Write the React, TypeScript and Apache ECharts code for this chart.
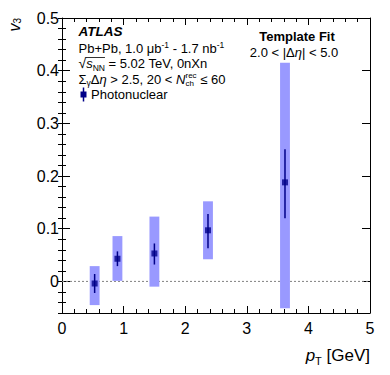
import React, { useEffect, useRef } from "react";
import * as echarts from "echarts";

// ---- data ----
const ptValues = [0.53, 0.9, 1.5, 2.37, 3.62];
const v3Values = [-0.004, 0.043, 0.053, 0.097, 0.188];
const statLow = [-0.022, 0.029, 0.032, 0.063, 0.12];
const statHigh = [0.014, 0.057, 0.072, 0.128, 0.251];
const sysLow = [-0.045, 0.001, -0.01, 0.042, -0.051];
const sysHigh = [0.029, 0.086, 0.123, 0.152, 0.415];
const sysHalfWidth = 0.08;
const xRange = [0, 5];
const yRange = [-0.06, 0.5];
const xMajorStep = 1;
const yMinorStep = 0.02;
const yTickLabels = [0, 0.1, 0.2, 0.3, 0.4, 0.5];

const FONT = "'Liberation Sans', Arial, Helvetica, sans-serif";
const NAVY = "#000088";
const BOX = "#9999ff";

type Frag = { t?: string; s?: number; b?: boolean; i?: boolean; dy?: number; stack?: [string, string]; sdy?: [number, number] };

function makeMeasurer() {
  const ctx = document.createElement("canvas").getContext("2d")!;
  return (t: string, s: number, b?: boolean, i?: boolean) => {
    ctx.font = `${i ? "italic " : ""}${b ? "bold " : ""}${s}px ${FONT}`;
    return ctx.measureText(t).width;
  };
}

function buildLine(
  measure: (t: string, s: number, b?: boolean, i?: boolean) => number,
  frags: Frag[],
  x0: number,
  baseline: number,
  align: "left" | "center" | "right" = "left",
  color = "#000",
  defSize = 13
) {
  const items: { t: string; x: number; s: number; dy: number; b?: boolean; i?: boolean }[] = [];
  let x = 0;
  for (const f of frags) {
    const s = f.s ?? defSize;
    if (f.stack) {
      const sdy = f.sdy ?? [-5, 3];
      const w1 = measure(f.stack[0], s, f.b, f.i);
      const w2 = measure(f.stack[1], s, f.b, f.i);
      items.push({ t: f.stack[0], x, s, dy: sdy[0], b: f.b, i: f.i });
      items.push({ t: f.stack[1], x, s, dy: sdy[1], b: f.b, i: f.i });
      x += Math.max(w1, w2);
    } else {
      const t = f.t ?? "";
      const w = measure(t, s, f.b, f.i);
      items.push({ t, x, s, dy: f.dy ?? 0, b: f.b, i: f.i });
      x += w;
    }
  }
  const start = align === "center" ? x0 - x / 2 : align === "right" ? x0 - x : x0;
  const elements = items.map((it) => ({
    type: "text",
    x: start + it.x,
    y: baseline + it.dy - 0.35 * it.s,
    silent: true,
    style: {
      text: it.t,
      fill: color,
      fontSize: it.s,
      fontFamily: FONT,
      fontWeight: it.b ? "bold" : "normal",
      fontStyle: it.i ? "italic" : "normal",
      align: "left",
      verticalAlign: "middle",
    },
  }));
  return { elements, start, width: x, items };
}

function App() {
  const ref = useRef<HTMLDivElement>(null);
  useEffect(() => {
    if (!ref.current) return;
    const chart = echarts.init(ref.current, undefined, { renderer: "svg" });
    const measure = makeMeasurer();

    const lx = 78.5;
    const atlas = buildLine(measure, [{ t: "ATLAS", s: 13.5, b: true, i: true }], lx, 36.7);
    const lumi = buildLine(
      measure,
      [{ t: "Pb+Pb, 1.0 \u03bcb" }, { t: "-1", s: 8.5, dy: -5.5 }, { t: " - 1.7 nb" }, { t: "-1", s: 8.5, dy: -5.5 }],
      lx,
      53.5
    );
    const sqrtLine = buildLine(
      measure,
      [{ t: "\u221a", s: 14 }, { t: "s", i: true }, { t: "NN", s: 8.5, dy: 2.5 }, { t: " = 5.02 TeV, 0nXn" }],
      lx,
      68.3
    );
    const rootW = measure("\u221a", 14);
    const overW = measure("s", 13, false, true) + measure("NN", 8.5);
    const cutLine = buildLine(
      measure,
      [
        { t: "\u03a3" },
        { t: "\u03b3", s: 8.5, dy: 2.5 },
        { t: "\u0394" },
        { t: "\u03b7", i: true },
        { t: " > 2.5, 20 < " },
        { t: "N", i: true },
        { stack: ["rec", "ch"], s: 8, sdy: [-5.5, 2.7] },
        { t: " \u2264 60" },
      ],
      lx,
      83.8
    );
    const photo = buildLine(measure, [{ t: "Photonuclear" }], lx + 12.5, 99);
    const fit = buildLine(measure, [{ t: "Template Fit", b: true }], 297, 40.7, "center");
    const deta = buildLine(
      measure,
      [{ t: "2.0 < |\u0394" }, { t: "\u03b7", i: true }, { t: "| < 5.0" }],
      294,
      57,
      "center"
    );
    const yTitle = buildLine(measure, [{ t: "v", s: 16, i: true }, { t: "3", s: 10, dy: 0.5 }], 0, 0, "right");
    const xTitle = buildLine(
      measure,
      [{ t: "p", s: 17, i: true }, { t: "T", s: 11, dy: 4 }, { t: " [GeV]", s: 17 }],
      370,
      361,
      "right"
    );

    const mx = lx + 5; // legend marker centre
    const my = 94.5;
    const graphicEls: any[] = [
      ...atlas.elements,
      ...lumi.elements,
      ...sqrtLine.elements,
      {
        type: "line",
        silent: true,
        shape: { x1: lx + rootW - 0.5, y1: 57.5, x2: lx + rootW + overW, y2: 57.5 },
        style: { stroke: "#000", lineWidth: 0.8 },
      },
      ...cutLine.elements,
      {
        type: "line",
        silent: true,
        shape: { x1: mx, y1: my - 7, x2: mx, y2: my + 7 },
        style: { stroke: NAVY, lineWidth: 1.5 },
      },
      {
        type: "rect",
        silent: true,
        shape: { x: mx - 3, y: my - 3, width: 6, height: 6 },
        style: { fill: NAVY },
      },
      ...photo.elements,
      ...fit.elements,
      ...deta.elements,
      {
        type: "group",
        x: 20,
        y: 18,
        rotation: Math.PI / 2,
        children: yTitle.elements,
      },
      ...xTitle.elements,
    ];

    const tickStyle = { color: "#000", width: 1 };
    const xAxisBase = {
      type: "value",
      min: xRange[0],
      max: xRange[1],
      interval: xMajorStep,
      axisLine: { show: true, onZero: false, lineStyle: tickStyle },
      axisTick: { show: true, inside: true, length: 7, lineStyle: tickStyle },
      minorTick: { show: true, splitNumber: 5, length: 4, lineStyle: tickStyle },
      splitLine: { show: false },
      minorSplitLine: { show: false },
    };
    const yMajor = (position: string, labels: boolean) => ({
      type: "value",
      position,
      min: yRange[0],
      max: yRange[1],
      axisLine: { show: true, onZero: false, lineStyle: tickStyle },
      axisTick: { show: true, inside: true, length: 8, lineStyle: tickStyle, customValues: yTickLabels },
      axisLabel: {
        show: labels,
        customValues: yTickLabels,
        formatter: (v: number) => String(+v.toFixed(2)),
        color: "#000",
        fontSize: 16,
        fontFamily: FONT,
        margin: 3,
      },
      splitLine: { show: false },
    });
    const yMinor = (position: string) => ({
      type: "value",
      position,
      min: yRange[0],
      max: yRange[1],
      interval: yMinorStep,
      axisLine: { show: false },
      axisTick: { show: true, inside: true, length: 4, lineStyle: tickStyle },
      axisLabel: { show: false },
      splitLine: { show: false },
    });

    const option: any = {
      animation: false,
      backgroundColor: "#fff",
      grid: { left: 62, right: 20, top: 18, bottom: 62, containLabel: false },
      xAxis: [
        {
          ...xAxisBase,
          position: "bottom",
          axisLabel: { show: true, color: "#000", fontSize: 16, fontFamily: FONT, margin: 7 },
        },
        { ...xAxisBase, position: "top", axisLabel: { show: false } },
      ],
      yAxis: [yMajor("left", true), yMinor("left"), yMajor("right", false), yMinor("right")],
      graphic: { elements: graphicEls },
      series: [
        {
          type: "line",
          data: [
            [xRange[0], 0],
            [xRange[1], 0],
          ],
          symbol: "none",
          silent: true,
          z: 1,
          lineStyle: { color: "#808080", width: 1, type: [2, 2] },
        },
        {
          type: "custom",
          z: 2,
          silent: true,
          data: ptValues.map((x, i) => [x, sysLow[i], sysHigh[i]]),
          encode: { x: 0, y: [1, 2] },
          renderItem: (_p: any, api: any) => {
            const x = api.value(0);
            const a = api.coord([x - sysHalfWidth, api.value(2)]);
            const b = api.coord([x + sysHalfWidth, api.value(1)]);
            return {
              type: "rect",
              shape: { x: a[0], y: a[1], width: b[0] - a[0], height: b[1] - a[1] },
              style: { fill: BOX },
            };
          },
        },
        {
          type: "custom",
          z: 3,
          silent: true,
          data: ptValues.map((x, i) => [x, statLow[i], statHigh[i]]),
          encode: { x: 0, y: [1, 2] },
          renderItem: (_p: any, api: any) => {
            const x = api.value(0);
            const a = api.coord([x, api.value(2)]);
            const b = api.coord([x, api.value(1)]);
            return {
              type: "line",
              shape: { x1: a[0], y1: a[1], x2: b[0], y2: b[1] },
              style: { stroke: NAVY, lineWidth: 1.5 },
            };
          },
        },
        {
          type: "scatter",
          z: 4,
          silent: true,
          data: ptValues.map((x, i) => [x, v3Values[i]]),
          symbol: "rect",
          symbolSize: 6,
          itemStyle: { color: NAVY },
        },
      ],
    };
    chart.setOption(option);
    return () => chart.dispose();
  }, []);
  return <div ref={ref} style={{ position: "fixed", left: 0, top: 0, width: 390, height: 375 }} />;
}

export default App;
